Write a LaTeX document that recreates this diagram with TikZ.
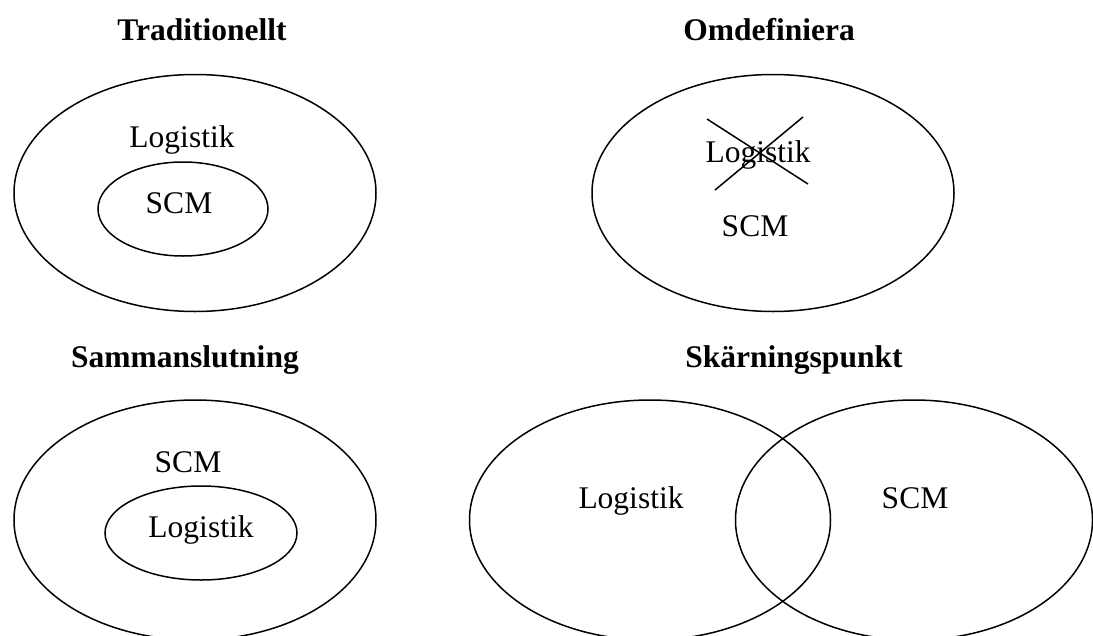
\documentclass[tikz,border=0pt]{standalone}
\usepackage{fontspec}
\setmainfont{Liberation Serif}
\usetikzlibrary{shapes.geometric}

\tikzset{
    mengd/.style={ellipse, draw, line width=1.5pt, inner sep=0pt},
    rubrik/.style={anchor=base, font=\fontsize{31.5}{36}\selectfont\bfseries},
    etikett/.style={anchor=base, font=\fontsize{31.5}{36}\selectfont},
}

\begin{document}
\begin{tikzpicture}[x=1pt, y=-1pt]
    \useasboundingbox (0,0) rectangle (1093,635);
    \clip (0,0) rectangle (1093,635);

    % Traditionellt
    \node[rubrik] (t1) at (202, 40) {Traditionellt};
    \node[mengd, minimum width=362pt, minimum height=237pt] (yttre1) at (195, 193) {};
    \node[mengd, minimum width=170pt, minimum height=94pt] (inre1) at (183, 209) {};
    \node[etikett] (log1) at (182, 147) {Logistik};
    \node[etikett] (scm1) at (179, 213) {SCM};

    % Omdefiniera
    \node[rubrik] (t2) at (769, 40) {Omdefiniera};
    \node[mengd, minimum width=362pt, minimum height=237pt] (yttre2) at (773, 193) {};
    \node[etikett] (log2) at (758, 162) {Logistik};
    \node[etikett] (scm2) at (755, 236) {SCM};
    \coordinate (k1) at (707, 119);
    \coordinate (k2) at (808, 184);
    \coordinate (k3) at (803, 117);
    \coordinate (k4) at (715, 190);
    \draw[line width=1.5pt] (k1) -- (k2);
    \draw[line width=1.5pt] (k3) -- (k4);

    % Sammanslutning
    \node[rubrik] (t3) at (185, 367) {Sammanslutning};
    \node[mengd, minimum width=362pt, minimum height=240pt] (yttre3) at (195, 520) {};
    \node[mengd, minimum width=192pt, minimum height=94pt] (inre3) at (201, 533) {};
    \node[etikett] (scm3) at (188, 472) {SCM};
    \node[etikett] (log3) at (201, 537) {Logistik};

    % Skärningspunkt
    \node[rubrik] (t4) at (794, 367) {Skärningspunkt};
    \node[mengd, minimum width=361pt, minimum height=240pt] (vanster4) at (650, 520) {};
    \node[mengd, minimum width=357pt, minimum height=240pt] (hoger4) at (914, 520) {};
    \node[etikett] (log4) at (631, 508) {Logistik};
    \node[etikett] (scm4) at (915, 508) {SCM};
\end{tikzpicture}
\end{document}
